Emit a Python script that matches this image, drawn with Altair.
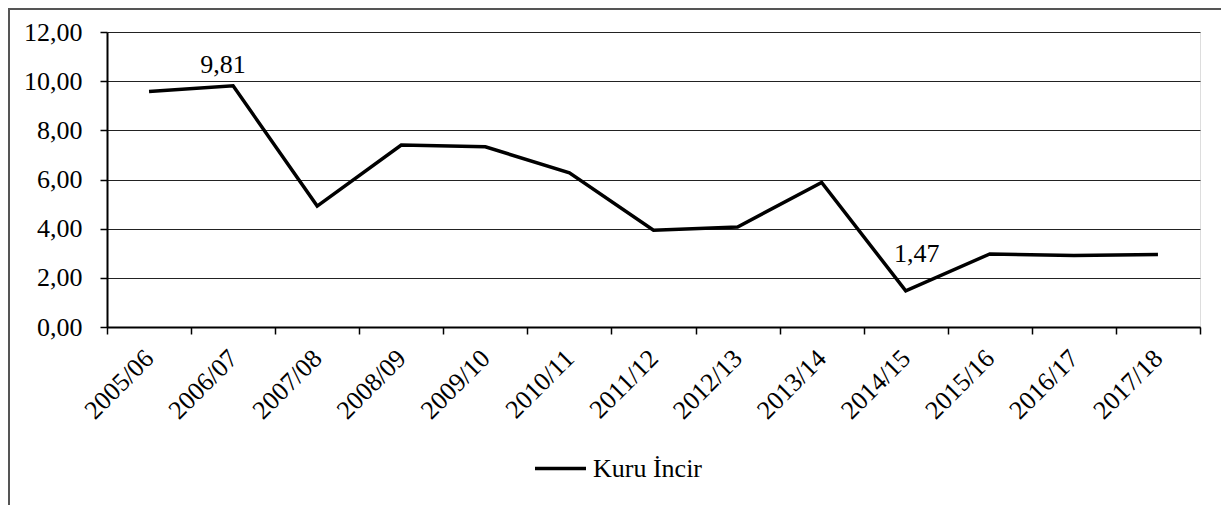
import altair as alt
import pandas as pd

seasons = ["2005/06", "2006/07", "2007/08", "2008/09", "2009/10", "2010/11", "2011/12",
           "2012/13", "2013/14", "2014/15", "2015/16", "2016/17", "2017/18"]
values = [9.58, 9.81, 4.92, 7.40, 7.33, 6.27, 3.94, 4.07, 5.88, 1.47, 2.97, 2.91, 2.95]
series_name = "Kuru İncir"
y_ticks = [0, 2, 4, 6, 8, 10, 12]

df = pd.DataFrame({"season": seasons, "value": values, "series": [series_name] * len(seasons)})

FONT = "'Times New Roman', 'Liberation Serif', serif"
FS = 26
comma_fmt = "replace(format(datum.value, '.2f'), '.', ',')"

x_enc = alt.X(
    "season:N", sort=seasons, bandPosition=0.5,
    scale=alt.Scale(type="band", paddingInner=0, paddingOuter=0),
    axis=alt.Axis(title=None, labelAngle=-45, labelAlign="right", labelBaseline="middle",
                  labelPadding=20, tickBand="extent", grid=False, tickSize=7, tickWidth=1.5,
                  tickColor="black", domainColor="black", domainWidth=2,
                  labelFont=FONT, labelFontSize=FS, labelColor="black"),
)
y_enc = alt.Y(
    "value:Q", scale=alt.Scale(domain=[0, 12], nice=False),
    axis=alt.Axis(title=None, values=y_ticks, labelExpr=comma_fmt, grid=True, gridColor="#222",
                  gridWidth=1, tickSize=7, tickWidth=1.5, tickColor="black",
                  domainColor="black", domainWidth=2, labelPadding=18,
                  labelFont=FONT, labelFontSize=FS, labelColor="black"),
)

border = alt.Chart(alt.Data(values=[{}])).mark_rect(
    filled=False, stroke="#555", strokeWidth=2
).encode(x=alt.value(-98), x2=alt.value(1400), y=alt.value(-23), y2=alt.value(800))

line = alt.Chart(df).mark_line(strokeWidth=3.5, color="black").encode(
    x=x_enc, y=y_enc,
    color=alt.Color("series:N", scale=alt.Scale(range=["black"]),
                    legend=alt.Legend(title=None, orient="none", legendX=426, legendY=409,
                                      symbolType="stroke", symbolSize=2601,
                                      symbolStrokeWidth=3.5, labelFont=FONT,
                                      labelFontSize=FS, labelColor="black", labelOffset=5)),
)

lab_hi = alt.Chart(df).transform_filter(alt.datum.season == "2006/07").transform_calculate(
    lbl="replace(format(datum.value, '.2f'), '.', ',')"
).mark_text(dx=-10, dy=-13, baseline="alphabetic", align="center", font=FONT,
            fontSize=FS, color="black").encode(x=x_enc, y=y_enc, text="lbl:N")

lab_lo = alt.Chart(df).transform_filter(alt.datum.season == "2014/15").transform_calculate(
    lbl="replace(format(datum.value, '.2f'), '.', ',')"
).mark_text(dx=11, dy=-29, baseline="alphabetic", align="center", font=FONT,
            fontSize=FS, color="black").encode(x=x_enc, y=y_enc, text="lbl:N")

chart = alt.layer(border, line, lab_hi, lab_lo).properties(
    width=1093, height=295,
    autosize=alt.AutoSizeParams(type="none"),
    padding={"left": 99, "top": 24, "right": 21, "bottom": 178},
).configure_view(stroke="black", strokeWidth=1.5).configure(font=FONT).configure_axis(
    labelFont=FONT
).configure_legend(labelFont=FONT).configure_text(font=FONT)

chart.save("out.html", embed_options={"renderer": "svg", "actions": False})
